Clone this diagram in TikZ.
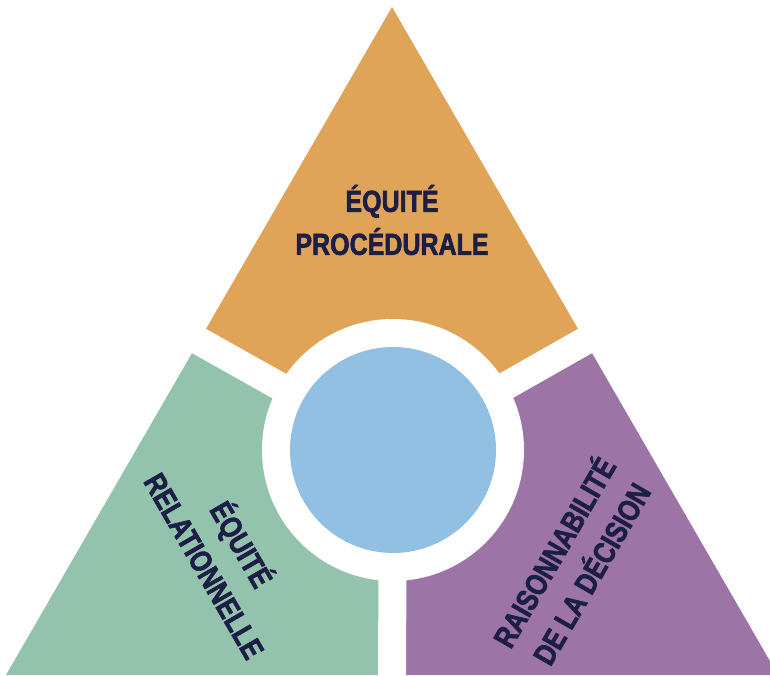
\documentclass[tikz,border=0pt]{standalone}
\usepackage{fontspec}
\setmainfont{Liberation Sans}[FakeStretch=0.82, BoldFeatures={FakeBold=2}]
\usetikzlibrary{calc}
\definecolor{procorange}{HTML}{E0A459}
\definecolor{relgreen}{HTML}{94C3AD}
\definecolor{decpurple}{HTML}{9C74A6}
\definecolor{hubblue}{HTML}{91C0E3}
\definecolor{labelnavy}{HTML}{1C1E46}
\begin{document}
\begin{tikzpicture}[x=1pt, y=1pt,
  gap/.style={white, line width=28pt},
  label/.style={inner sep=0pt, text=labelnavy, align=center,
    font=\bfseries\fontsize{30.5}{43}\selectfont}]
\useasboundingbox (0,0) rectangle (770,675);
% corners of the big triangle and its middle
\coordinate (apex) at (392,668);
\coordinate (bl) at (6,0);
\coordinate (br) at (778,0);
\coordinate (hub) at (393,225);
\coordinate (midl) at ($(apex)!0.5!(bl)$);
\coordinate (midr) at ($(apex)!0.5!(br)$);
\coordinate (midb) at ($(bl)!0.5!(br)$);
% the three parts
\fill [procorange] (hub) -- (midl) -- (apex) -- (midr) -- cycle;
\fill [relgreen] (hub) -- (midl) -- (bl) -- (midb) -- cycle;
\fill [decpurple] (hub) -- (midb) -- (br) -- (midr) -- cycle;
% white cuts between them
\draw [gap] (hub) -- ($(hub)!1.1!(midl)$);
\draw [gap] (hub) -- ($(hub)!1.1!(midr)$);
\draw [gap] (hub) -- ($(hub)!1.1!(midb)$);
\fill [white] (hub) circle (131);
\node [circle, fill=hubblue, minimum size=206pt, inner sep=0pt] (core) at (hub) {};
% labels
\node [label] (procedurale) at (392,455) {ÉQUITÉ\\PROCÉDURALE};
\node [label, rotate=-60] (relationnelle) at (225,121) {ÉQUITÉ\\RELATIONNELLE};
\node [label, rotate=60] (decision) at (571,113) {RAISONNABILITÉ\\DE LA DÉCISION};
\end{tikzpicture}
\end{document}
